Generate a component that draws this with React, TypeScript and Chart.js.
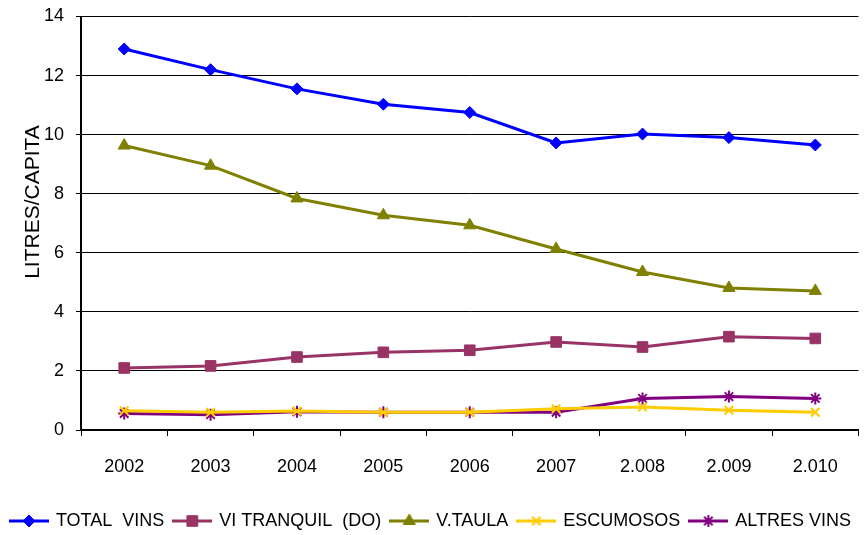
import { useEffect, useRef } from 'react';
import { Chart, registerables } from 'chart.js';
import { drawPoint } from 'chart.js/helpers';

Chart.register(...registerables);

const categories = ['2002', '2003', '2004', '2005', '2006', '2007', '2.008', '2.009', '2.010'];
const totalVins = [12.9, 12.2, 11.55, 11.03, 10.75, 9.72, 10.02, 9.9, 9.65];
const viTranquil = [2.1, 2.17, 2.47, 2.63, 2.7, 2.98, 2.81, 3.16, 3.1];
const vTaula = [9.63, 8.95, 7.84, 7.27, 6.93, 6.13, 5.35, 4.81, 4.71];
const escumosos = [0.65, 0.6, 0.64, 0.6, 0.6, 0.72, 0.78, 0.67, 0.6];
const altresVins = [0.56, 0.52, 0.62, 0.6, 0.6, 0.6, 1.07, 1.13, 1.07];

const seriesNames = ['TOTAL  VINS', 'VI TRANQUIL  (DO)', 'V.TAULA', 'ESCUMOSOS', 'ALTRES VINS'];
const seriesColors = ['#0000FF', '#993366', '#808000', '#FFCC00', '#800080'];
const seriesStyles = ['rectRot', 'rect', 'triangle', 'crossRot', 'star'];
const seriesRadius = [6, 7.5, 7, 6, 6];
const seriesBorder = [1, 1, 1, 2, 2];

const yTitle = 'LITRES/CAPITA';
const yMin = 0;
const yMax = 14;
const yStep = 2;

function makeIcon(color: string, style: string, radius: number, bw: number) {
  const c = document.createElement('canvas');
  c.width = 40;
  c.height = 18;
  const ctx = c.getContext('2d')!;
  ctx.strokeStyle = color;
  ctx.lineWidth = 3;
  ctx.beginPath();
  ctx.moveTo(0, 9);
  ctx.lineTo(40, 9);
  ctx.stroke();
  ctx.fillStyle = color;
  ctx.strokeStyle = color;
  ctx.lineWidth = bw;
  drawPoint(ctx, { pointStyle: style, radius, rotation: 0, borderWidth: bw } as any, 20, 9);
  return c;
}

const layoutTweak = {
  id: 'layoutTweak',
  afterLayout(chart: any) {
    if (chart.legend) {
      chart.legend.top += 7;
      chart.legend.bottom += 7;
    }
  },
  afterDraw(chart: any) {
    const ctx = chart.ctx;
    ctx.save();
    ctx.translate(33, 202);
    ctx.rotate(-Math.PI / 2);
    ctx.fillStyle = '#000';
    ctx.font = '21px "Liberation Sans"';
    ctx.textAlign = 'center';
    ctx.textBaseline = 'middle';
    ctx.fillText(yTitle, 0, 0);
    ctx.restore();
  },
};

export default function App() {
  const ref = useRef<HTMLCanvasElement>(null);

  useEffect(() => {
    document.body.style.margin = '0';
    const data = [totalVins, viTranquil, vTaula, escumosos, altresVins];
    const icons = seriesNames.map((_, i) =>
      makeIcon(seriesColors[i], seriesStyles[i], seriesRadius[i], seriesBorder[i])
    );
    const chart = new Chart(ref.current!, {
      type: 'line',
      data: {
        labels: categories,
        datasets: seriesNames.map((name, i) => ({
          label: name,
          data: data[i],
          borderColor: seriesColors[i],
          backgroundColor: seriesColors[i],
          borderWidth: 3,
          pointStyle: seriesStyles[i] as any,
          pointRadius: seriesRadius[i],
          pointBorderWidth: seriesBorder[i],
          pointBackgroundColor: seriesColors[i],
          pointBorderColor: seriesColors[i],
          tension: 0,
          fill: false,
        })),
      },
      plugins: [layoutTweak],
      options: {
        responsive: false,
        animation: false,
        layout: { padding: { top: 14, right: 5, left: 0, bottom: 2 } },
        plugins: {
          tooltip: { enabled: false },
          legend: {
            position: 'bottom',
            labels: {
              usePointStyle: true,
              pointStyleWidth: 36,
              padding: 10,
              color: '#000',
              font: { family: 'Liberation Sans', size: 18 },
              generateLabels: (ch: any) => {
                const items = (Chart.defaults.plugins.legend.labels as any).generateLabels(ch);
                items.forEach((it: any, i: number) => {
                  it.pointStyle = icons[i];
                });
                return items;
              },
            },
          },
        },
        scales: {
          x: {
            type: 'category',
            offset: true,
            grid: {
              drawOnChartArea: false,
              drawTicks: true,
              tickLength: 6,
              color: '#000',
              lineWidth: 1,
              offset: true,
            },
            border: { color: '#000', width: 2 },
            ticks: {
              color: '#000',
              padding: 20,
              maxRotation: 0,
              font: { family: 'Liberation Sans', size: 18 },
            },
            afterFit: (s: any) => {
              s.height = 65;
            },
          },
          y: {
            min: yMin,
            max: yMax,
            ticks: {
              stepSize: yStep,
              color: '#000',
              padding: 12,
              font: { family: 'Liberation Sans', size: 18, lineHeight: 0.5 },
            },
            grid: {
              color: '#000',
              lineWidth: 1,
              tickLength: 5,
            },
            border: { color: '#000', width: 2 },
            afterFit: (s: any) => {
              s.width = 81;
            },
          },
        },
      },
    });
    return () => chart.destroy();
  }, []);

  return (
    <div style={{ width: 867, height: 535 }}>
      <canvas ref={ref} width={867} height={535} />
    </div>
  );
}
